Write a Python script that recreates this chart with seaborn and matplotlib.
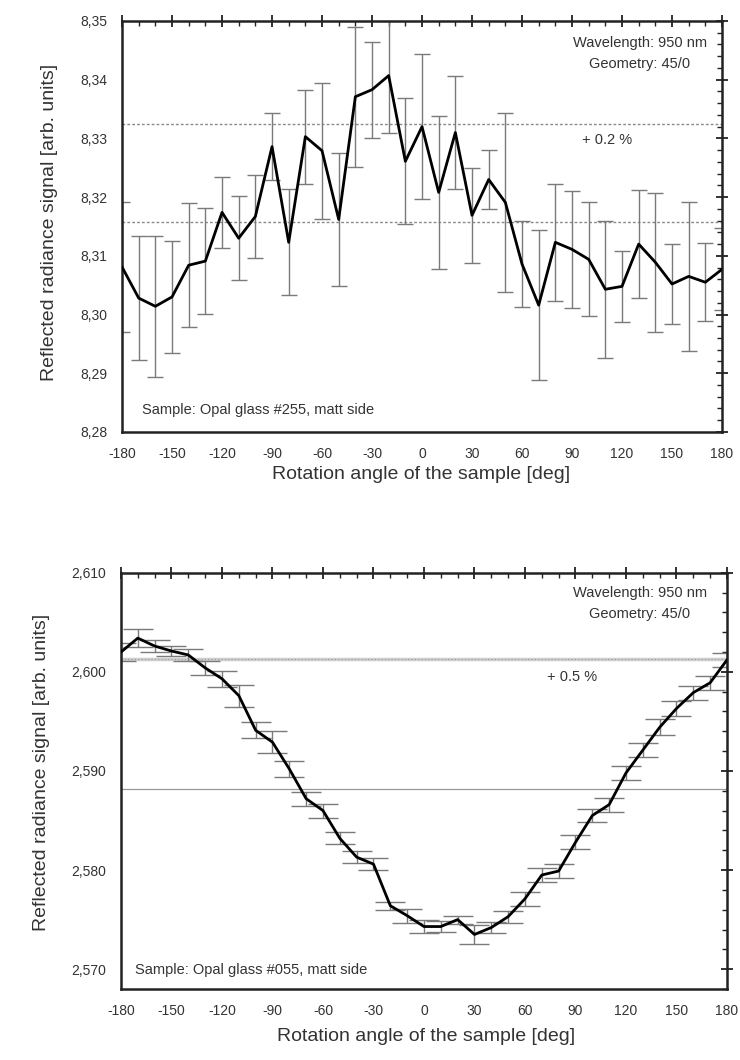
import numpy as np
import pandas as pd
import matplotlib
matplotlib.use("Agg")
import matplotlib.pyplot as plt
from matplotlib.ticker import MultipleLocator, FuncFormatter
import seaborn as sns

# rotation angles, both panels
angle = list(range(-180, 181, 10))

# top panel: opal glass #255
sig_255 = [8.3081, 8.3028, 8.3014, 8.3030, 8.3084, 8.3091, 8.3174, 8.3130, 8.3167, 8.3286,
           8.3123, 8.3303, 8.3279, 8.3162, 8.3371, 8.3383, 8.3407, 8.3261, 8.3320, 8.3208,
           8.3310, 8.3169, 8.3230, 8.3191, 8.3086, 8.3016, 8.3123, 8.3111, 8.3094, 8.3043,
           8.3048, 8.3120, 8.3089, 8.3052, 8.3065, 8.3055, 8.3077]
err_255 = [0.0110, 0.0105, 0.0120, 0.0096, 0.0106, 0.0090, 0.0061, 0.0072, 0.0070, 0.0057,
           0.0090, 0.0080, 0.0116, 0.0113, 0.0119, 0.0082, 0.0097, 0.0107, 0.0123, 0.0130,
           0.0097, 0.0081, 0.0051, 0.0152, 0.0074, 0.0128, 0.0100, 0.0100, 0.0097, 0.0117,
           0.0060, 0.0092, 0.0118, 0.0068, 0.0127, 0.0066, 0.0070]
lines_255 = [8.3158, 8.3324]

# bottom panel: opal glass #055
sig_055 = [2.6020, 2.6034, 2.6026, 2.6021, 2.6017, 2.6004, 2.5993, 2.5976, 2.5941, 2.5929,
           2.5902, 2.5872, 2.5860, 2.5832, 2.5813, 2.5806, 2.5764, 2.5754, 2.5743, 2.5743,
           2.5750, 2.5735, 2.5742, 2.5753, 2.5771, 2.5795, 2.5799, 2.5828, 2.5855, 2.5866,
           2.5898, 2.5921, 2.5944, 2.5963, 2.5979, 2.5989, 2.6012]
err_055 = [0.0009, 0.0009, 0.0006, 0.0005, 0.0006, 0.0007, 0.0008, 0.0011, 0.0008, 0.0011,
           0.0008, 0.0007, 0.0007, 0.0006, 0.0006, 0.0006, 0.0004, 0.0007, 0.0007, 0.0006,
           0.0004, 0.0010, 0.0006, 0.0006, 0.0007, 0.0007, 0.0007, 0.0007, 0.0007, 0.0007,
           0.0007, 0.0007, 0.0008, 0.0008, 0.0007, 0.0007, 0.0007]
lines_055 = [2.5882, 2.6013]

sns.set_style("white")
plt.rcParams['font.family'] = ['Liberation Sans', 'DejaVu Sans']
plt.rcParams['axes.unicode_minus'] = False
txt = '#333333'
fs_note = 10.5

fig = plt.figure(figsize=(7.4, 10.6), dpi=100)
ax1 = fig.add_axes([0.1649, 0.5925, 0.8108, 0.3877])
ax2 = fig.add_axes([0.1635, 0.0670, 0.8189, 0.3927])


def comma(dec):
    # decimal comma like the original software
    return FuncFormatter(lambda v, p: f"{v:.{dec}f}".replace('.', ','))


def draw(ax, sig, err, cap):
    df = pd.DataFrame({"angle": angle, "signal": sig, "err": err})
    ax.errorbar(df["angle"], df["signal"], yerr=df["err"], fmt='none',
                ecolor='#7a7a7a', elinewidth=1.0, capsize=cap, capthick=1.0, zorder=2)
    sns.lineplot(data=df, x="angle", y="signal", ax=ax, color='black', lw=2.0,
                 zorder=3, legend=False)


draw(ax1, sig_255, err_255, 6)
draw(ax2, sig_055, err_055, 11)

# reference lines
for v in lines_255:
    ax1.axhline(v, color='#8a8a8a', lw=1.0, ls=(0, (2, 1.5)), zorder=1)
ax2.axhline(lines_055[1], color='#cfcfcf', lw=2.5, zorder=1)
ax2.axhline(lines_055[1], color='#9a9a9a', lw=0.8, ls=(0, (1, 2)), zorder=1)
ax2.axhline(lines_055[0], color='#9a9a9a', lw=0.9, zorder=1)

ax1.set_ylim(8.28, 8.35)
ax2.set_ylim(2.568, 2.610)
ax1.yaxis.set_major_locator(MultipleLocator(0.01))
ax1.yaxis.set_minor_locator(MultipleLocator(0.002))
ax2.yaxis.set_major_locator(MultipleLocator(0.01))
ax2.yaxis.set_minor_locator(MultipleLocator(0.002))
ax1.yaxis.set_major_formatter(comma(2))
ax2.yaxis.set_major_formatter(comma(3))

for ax in (ax1, ax2):
    ax.set_xlim(-180, 180)
    ax.xaxis.set_major_locator(MultipleLocator(30))
    ax.xaxis.set_minor_locator(MultipleLocator(10))
    ax.tick_params(which='both', top=True, right=True,
                   labelsize=10, labelcolor=txt, color='#222222')
    ax.tick_params(which='major', direction='inout', length=9, width=1.3)
    ax.tick_params(axis='x', which='major', pad=6)
    ax.tick_params(axis='y', which='major', pad=6)
    ax.tick_params(which='minor', direction='in', length=3.5, width=1.0)
    for s in ax.spines.values():
        s.set_linewidth(1.8)
        s.set_color('#222222')
    ax.set_xlabel('Rotation angle of the sample [deg]', fontsize=14, color=txt)
    ax.set_ylabel('Reflected radiance signal [arb. units]', fontsize=14, color=txt)

ax1.xaxis.set_label_coords(0.498, -0.083)
ax1.yaxis.set_label_coords(-0.107, 0.51)
ax2.xaxis.set_label_coords(0.503, -0.094)
ax2.yaxis.set_label_coords(-0.117, 0.52)

# annotations
ax1.text(0.863, 0.946, 'Wavelength: 950 nm', transform=ax1.transAxes, ha='center', va='center', fontsize=fs_note, color=txt)
ax1.text(0.863, 0.895, 'Geometry: 45/0', transform=ax1.transAxes, ha='center', va='center', fontsize=fs_note, color=txt)
ax1.text(0.808, 0.71, '+ 0.2 %', transform=ax1.transAxes, ha='center', va='center', fontsize=fs_note, color=txt)
ax1.text(0.033, 0.054, 'Sample: Opal glass #255, matt side', transform=ax1.transAxes, ha='left', va='center', fontsize=fs_note, color=txt)

ax2.text(0.856, 0.952, 'Wavelength: 950 nm', transform=ax2.transAxes, ha='center', va='center', fontsize=fs_note, color=txt)
ax2.text(0.856, 0.90, 'Geometry: 45/0', transform=ax2.transAxes, ha='center', va='center', fontsize=fs_note, color=txt)
ax2.text(0.744, 0.75, '+ 0.5 %', transform=ax2.transAxes, ha='center', va='center', fontsize=fs_note, color=txt)
ax2.text(0.023, 0.046, 'Sample: Opal glass #055, matt side', transform=ax2.transAxes, ha='left', va='center', fontsize=fs_note, color=txt)

fig.savefig('out.png', dpi=100)
